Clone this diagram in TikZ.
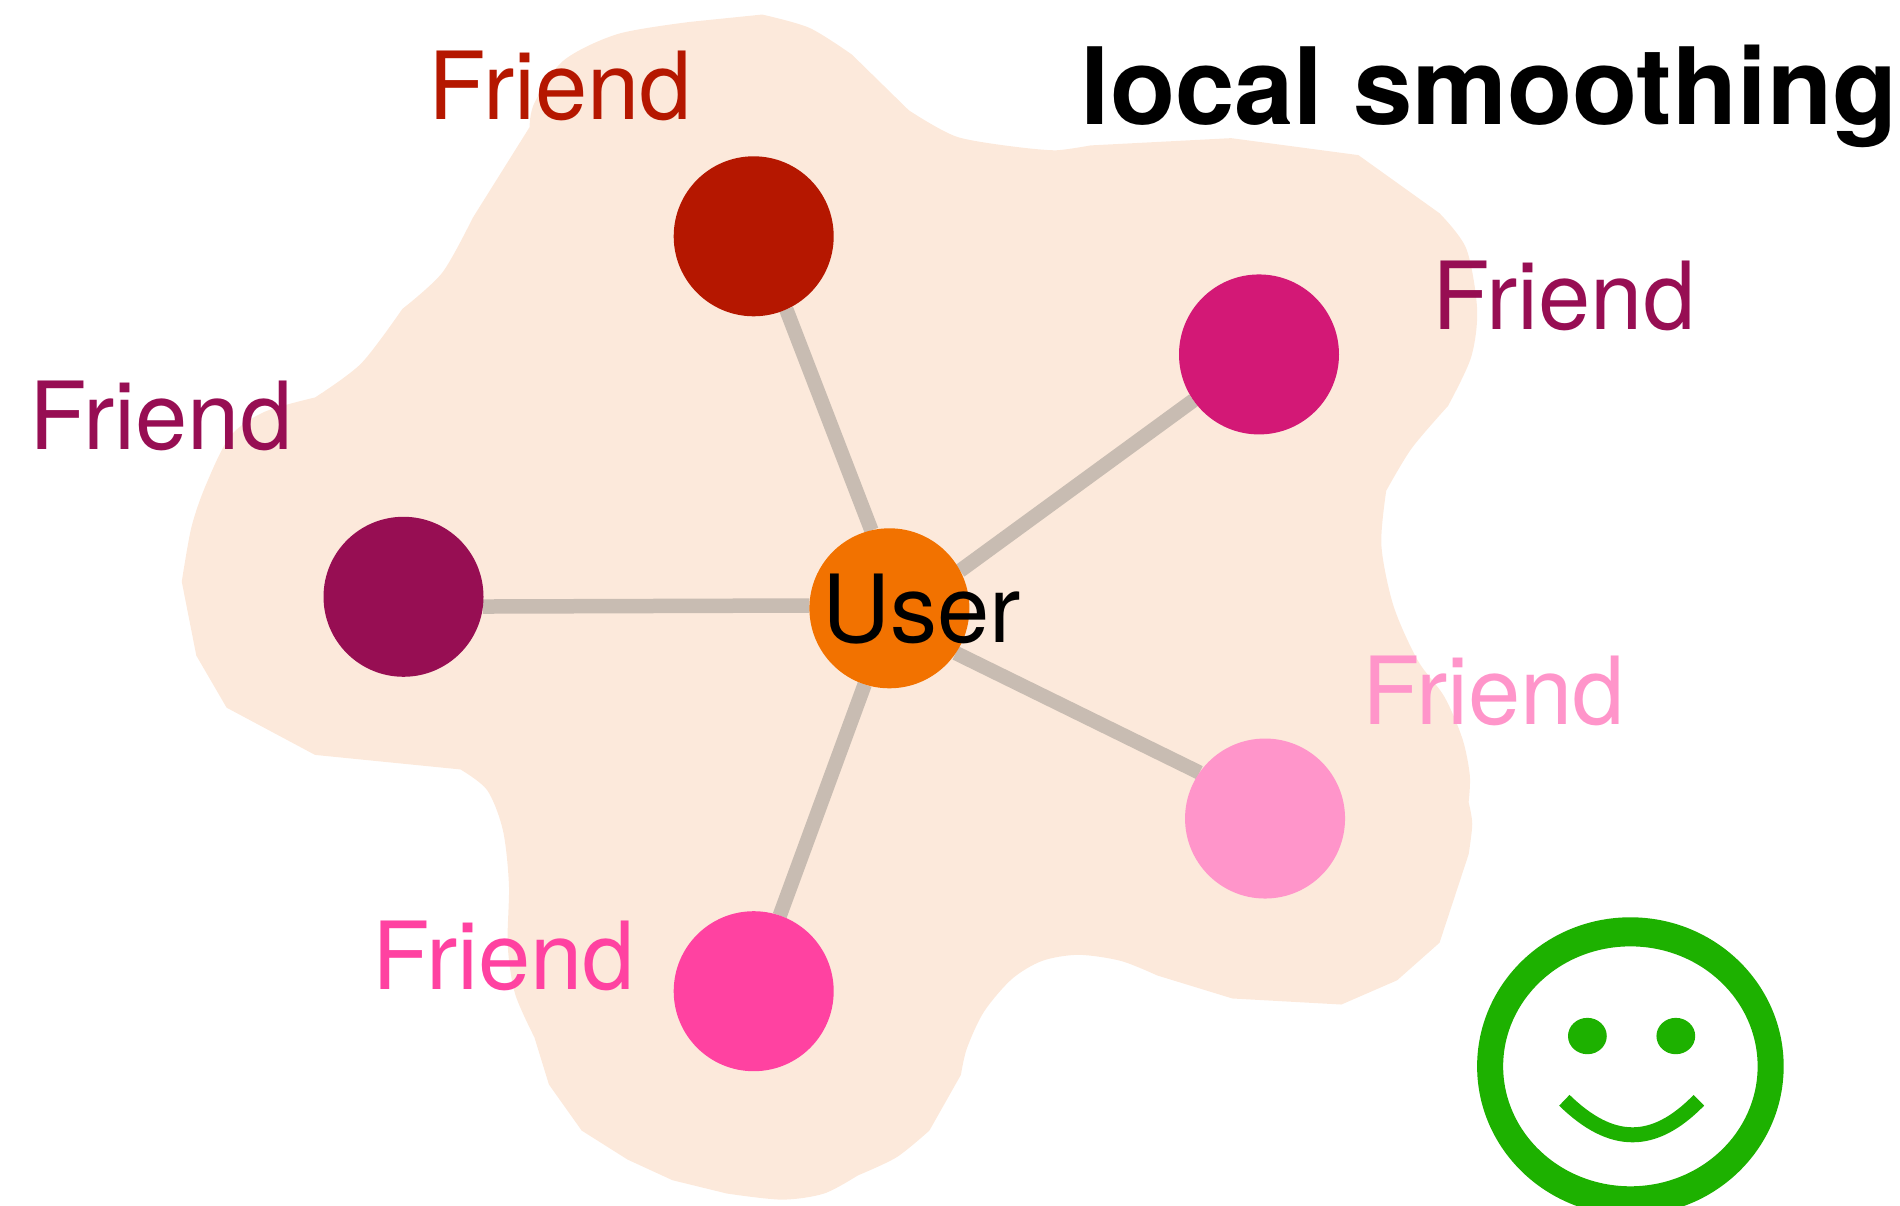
\documentclass[tikz,border=0pt]{standalone}
\usepackage{fontspec}
\setmainfont{TeX Gyre Heros}
\usetikzlibrary{backgrounds}
\definecolor{blob}{HTML}{FCE9DB}
\definecolor{cRed}{HTML}{B51700}
\definecolor{cMag}{HTML}{D31876}
\definecolor{cDark}{HTML}{970E53}
\definecolor{cLight}{HTML}{FF95CA}
\definecolor{cHot}{HTML}{FF42A1}
\definecolor{cOrange}{HTML}{F27200}
\definecolor{cGreen}{HTML}{1DB100}
\definecolor{cLink}{HTML}{C8BCB2}
\tikzset{
  person/.style={circle,minimum size=160pt,inner sep=0pt,outer sep=0pt,fill=#1},
  lbl/.style={anchor=base west,inner sep=0pt,outer sep=0pt,font=\fontsize{94}{94}\selectfont,text=#1},
  link/.style={draw=cLink,line width=14.5pt},
}
\begin{document}
\begin{tikzpicture}[x=1.21173pt,y=-1.21173pt]
\useasboundingbox (0,0) rectangle (1568,995);
% nodes
\node[person=cRed]    (f1) at (622,195) {};
\node[person=cMag]    (f2) at (1039,292.5) {};
\node[person=cDark]   (f3) at (333,492.5) {};
\node[person=cLight]  (f4) at (1044,675.5) {};
\node[person=cHot]    (f5) at (622,818) {};
\node[person=cOrange] (u)  at (734,502) {};
\begin{pgfonlayer}{background}
\fill[blob] (570,18) -- (629,12)
 -- plot[smooth] coordinates {(629,12)(668,23)(703,45)}
 -- (750,91)
 -- plot[smooth] coordinates {(750,91)(790,113)(845,122)}
 -- plot[smooth] coordinates {(845,122)(872,124)(900,120)}
 -- (1016,114) -- (1121,128) -- (1188,176)
 -- plot[smooth] coordinates {(1188,176)(1210,205)(1219,255)(1214,295)(1195,335)}
 -- plot[smooth] coordinates {(1195,335)(1165,370)(1144,405)}
 -- plot[smooth] coordinates {(1144,405)(1140,450)(1150,500)(1170,545)(1192,575)(1207,610)(1213,640)(1212,662)}
 -- plot[smooth] coordinates {(1212,662)(1215,680)(1212,705)}
 -- (1188,778) -- (1153,809) -- (1107,829) -- (1017,824) -- (955,805)
 -- plot[smooth] coordinates {(955,805)(925,793)(890,788)(860,793)(835,808)(812,835)(798,865)(793,887)}
 -- (767,933)
 -- plot[smooth] coordinates {(767,933)(740,955)(708,970)}
 -- plot[smooth] coordinates {(708,970)(680,985)(645,990)(600,985)}
 -- (555,974) -- (518,957) -- (480,933) -- (453,895) -- (441,856)
 -- plot[smooth] coordinates {(441,856)(425,820)(419,780)(420,730)(415,685)(402,652)(380,635)}
 -- (260,623) -- (187,584) -- (162,541) -- (150,480)
 -- plot[smooth] coordinates {(150,480)(158,435)(170,400)(190,360)(218,340)(260,328)}
 -- plot[smooth] coordinates {(260,328)(298,300)(332,255)}
 -- plot[smooth] coordinates {(332,255)(365,225)(390,180)}
 -- (437,105)
 -- plot[smooth] coordinates {(437,105)(441,85)(465,50)(510,28)(570,18)}
 -- cycle;
\draw[link] (u.103) -- (f1.294);
\draw[link] (u.28) -- (f2.215);
\draw[link] (u.178) -- (f3.353.5);
\draw[link] (u.326) -- (f4.145);
\draw[link] (u.252) -- (f5.71);
\end{pgfonlayer}
% labels
\node[lbl=cRed]   (t1) at (354,99)  {Friend};
\node[lbl=cDark]  (t2) at (1182,272) {Friend};
\node[lbl=cDark]  (t3) at (24,371)  {Friend};
\node[lbl=cLight] (t4) at (1124,598) {Friend};
\node[lbl=cHot]   (t5) at (307,817) {Friend};
\node[lbl=black]  (t6) at (679,530) {User};
\node[anchor=base west,inner sep=0pt,font=\fontsize{106.7}{107}\selectfont\bfseries] (title) at (891.5,103) {local smoothing};
% smiley
\fill[cGreen,even odd rule] (1345.5,880) ellipse [x radius=126.5,y radius=123] (1345.5,880) ellipse [x radius=105,y radius=99];
\fill[cGreen] (1310,855) ellipse [x radius=16,y radius=15];
\fill[cGreen] (1383,855) ellipse [x radius=16,y radius=15];
\draw[cGreen,line width=15pt] (1291,908) .. controls (1330,946) and (1365,946) .. (1402,908);
\end{tikzpicture}
\end{document}
